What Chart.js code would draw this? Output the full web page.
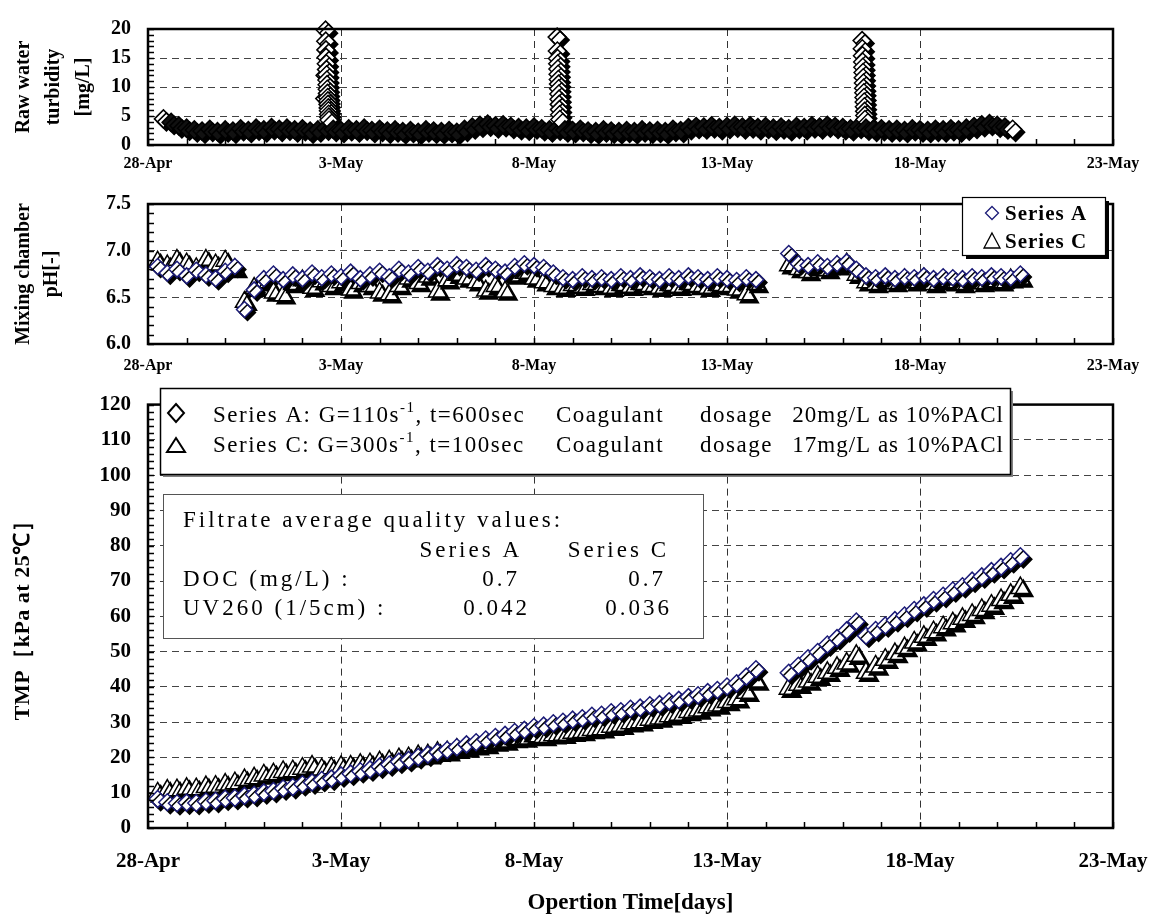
<!DOCTYPE html>
<html>
<head>
<meta charset="utf-8">
<script src="https://cdn.jsdelivr.net/npm/chart.js@4.4.1/dist/chart.umd.min.js"></script>
<style>
html, body { margin: 0; padding: 0; background: #fff; }
#wrap { position: relative; width: 1155px; height: 920px; }
canvas { position: absolute; left: 0; }
</style>
</head>
<body>
<div id="wrap">
  <canvas id="turbChart" width="1155" height="175" style="top:0"></canvas>
  <canvas id="phChart" width="1155" height="200" style="top:175px"></canvas>
  <canvas id="tmpChart" width="1155" height="545" style="top:375px"></canvas>
</div>
<script>
// x axis: days since 28-Apr
const xTickLabels = ['28-Apr', '3-May', '8-May', '13-May', '18-May', '23-May'];

// raw water turbidity, sampled every 0.2 day from day 0.4
const turbBase = [
  4.5, 3.9, 3.3, 2.9, 2.6, 2.4, 2.7, 2.3, 2.6, 2.4,
  2.8, 2.5, 2.9, 2.6, 3.0, 2.7, 2.9, 2.6, 2.8, 2.4,
  2.6, 2.9, 2.7, 2.5, 2.8, 2.6, 2.9, 2.5, 2.7, 2.4,
  2.6, 2.3, 2.5, 2.2, 2.6, 2.4, 2.3, 2.5, 2.2, 2.7,
  3.1, 3.4, 3.6, 3.3, 3.5, 3.2, 3.0, 2.9, 3.1, 2.8,
  2.6, 2.9, 2.6, 2.5, 2.7, 2.4, 2.3, 2.6, 2.4, 2.3,
  2.5, 2.3, 2.6, 2.4, 2.5, 2.3, 2.7, 2.5, 3.0, 3.2,
  3.1, 3.3, 3.0, 3.2, 3.4, 3.1, 3.3, 3.0, 3.2, 2.9,
  3.1, 2.8, 3.2, 3.0, 3.3, 3.1, 3.4, 3.2, 3.0, 2.8,
  3.2, 2.9, 2.7, 2.8, 2.6, 2.7, 2.5, 2.8, 2.6, 2.5,
  2.7, 2.6, 2.8, 2.6, 2.9, 3.2, 3.5, 3.7, 3.4, 3.1, 2.7
];
// turbidity spikes (dense readings)
const spikeDays1 = [4.58, 4.59, 4.60, 4.605, 4.61, 4.615, 4.62, 4.625, 4.63, 4.635, 4.64, 4.645, 4.65, 4.655, 4.66, 4.665, 4.67, 4.675, 4.68, 4.685, 4.69];
const spikeVals1 = [8.0, 12.0, 19.8, 17.9, 16.4, 15.1, 14.0, 13.0, 12.1, 11.2, 10.4, 9.6, 8.9, 8.2, 7.6, 7.0, 6.4, 5.9, 5.3, 4.8, 4.3];
const spikeDays2 = [10.60, 10.605, 10.61, 10.615, 10.62, 10.625, 10.63, 10.635, 10.64, 10.645, 10.65, 10.655, 10.66, 10.665, 10.67];
const spikeVals2 = [18.6, 16.2, 14.9, 14.0, 13.1, 12.2, 11.3, 10.5, 9.7, 8.8, 7.9, 7.0, 6.1, 5.2, 4.4];
const spikeDays3 = [18.50, 18.505, 18.51, 18.515, 18.52, 18.525, 18.53, 18.535, 18.54, 18.545, 18.55, 18.555, 18.56, 18.565, 18.57, 18.575];
const spikeVals3 = [18.0, 16.6, 15.4, 14.3, 13.4, 12.5, 11.6, 10.7, 9.8, 9.0, 8.2, 7.4, 6.6, 5.8, 5.1, 4.4];

// pH, every 0.25 day; run 1 from day 0.25, run 2 from day 16.6
const phA1 = [
  6.83, 6.76, 6.80, 6.73, 6.79, 6.74, 6.70, 6.78, 6.83, 6.37,
  6.58, 6.70, 6.75, 6.69, 6.74, 6.70, 6.76, 6.71, 6.75, 6.72,
  6.77, 6.70, 6.74, 6.78, 6.72, 6.80, 6.76, 6.82, 6.78, 6.84,
  6.80, 6.85, 6.82, 6.79, 6.84, 6.80, 6.77, 6.83, 6.86, 6.84,
  6.82, 6.76, 6.71, 6.69, 6.72, 6.70, 6.71, 6.69, 6.72, 6.70,
  6.73, 6.71, 6.69, 6.72, 6.70, 6.73, 6.71, 6.69, 6.72, 6.70,
  6.68, 6.71, 6.69
];
const phC1 = [
  6.88, 6.84, 6.90, 6.86, 6.81, 6.90, 6.85, 6.89, 6.80, 6.45,
  6.60, 6.66, 6.55, 6.52, 6.64, 6.68, 6.60, 6.67, 6.62, 6.66,
  6.58, 6.65, 6.62, 6.55, 6.53, 6.62, 6.70, 6.65, 6.72, 6.56,
  6.68, 6.74, 6.70, 6.66, 6.57, 6.62, 6.56, 6.73, 6.76, 6.70,
  6.66, 6.62, 6.60, 6.63, 6.61, 6.64, 6.62, 6.60, 6.63, 6.61,
  6.64, 6.62, 6.60, 6.63, 6.61, 6.64, 6.62, 6.60, 6.63, 6.62,
  6.58, 6.53, 6.64
];
const phA2 = [
  6.97, 6.86, 6.84, 6.87, 6.83, 6.86, 6.88, 6.80, 6.73, 6.71,
  6.73, 6.70, 6.72, 6.71, 6.73, 6.70, 6.72, 6.71, 6.70, 6.72,
  6.71, 6.73, 6.72, 6.71, 6.75
];
const phC2 = [
  6.84, 6.80, 6.77, 6.82, 6.79, 6.83, 6.86, 6.74, 6.66, 6.64,
  6.68, 6.65, 6.69, 6.66, 6.70, 6.64, 6.67, 6.66, 6.64, 6.68,
  6.65, 6.67, 6.66, 6.69, 6.70
];

// TMP [kPa], same sampling as pH
const tmpA1 = [
  8.2, 7.3, 7.0, 7.2, 7.1, 7.5, 7.7, 8.3, 8.5, 9.1,
  9.4, 10.1, 10.5, 11.2, 11.6, 12.4, 12.9, 13.6, 14.0, 14.9,
  15.4, 16.1, 16.6, 17.4, 18.0, 18.8, 19.3, 20.1, 20.8, 21.5,
  22.1, 22.9, 23.7, 24.3, 25.1, 25.8, 26.4, 27.2, 27.8, 28.6,
  29.0, 29.7, 30.1, 30.7, 31.1, 31.8, 32.1, 32.8, 33.1, 33.8,
  34.1, 34.8, 35.1, 35.9, 36.3, 37.1, 37.6, 38.5, 39.1, 40.1,
  41.0, 42.9, 45.0
];
const tmpC1 = [
  9.8, 10.6, 10.7, 11.1, 11.0, 11.6, 11.7, 12.3, 12.7, 13.6,
  14.1, 14.9, 15.2, 15.9, 16.1, 16.8, 17.4, 16.6, 16.9, 17.3,
  17.4, 17.9, 18.1, 18.6, 18.9, 19.5, 19.8, 20.4, 20.6, 21.3,
  21.5, 22.2, 22.5, 23.2, 23.5, 24.2, 24.5, 25.2, 25.4, 26.0,
  25.8, 26.3, 26.4, 27.0, 27.2, 27.8, 28.0, 28.7, 29.0, 29.7,
  30.0, 30.7, 31.0, 31.7, 32.1, 32.9, 33.3, 34.2, 34.7, 35.7,
  36.5, 38.3, 41.5
];
const tmpA2 = [
  44.0, 46.0, 48.1, 49.9, 52.0, 53.8, 56.0, 58.5, 54.5, 56.1,
  57.4, 58.9, 60.2, 61.8, 63.1, 64.6, 65.8, 67.3, 68.5, 70.1,
  71.3, 72.8, 74.0, 75.6, 77.0
];
const tmpC2 = [
  39.5, 40.6, 41.5, 42.9, 44.0, 45.4, 46.6, 48.8, 44.0, 45.8,
  47.7, 49.3, 51.0, 52.6, 54.2, 55.5, 56.9, 58.0, 59.3, 60.4,
  61.8, 63.0, 64.6, 66.1, 68.0
];

const SERIF = '"Liberation Serif", "Times New Roman", serif';
const NAVY = '#1c1c78';

const sampleDays = (start, step, n) => Array.from({ length: n }, (_, i) => +(start + i * step).toFixed(2));
const pts = (days, vals) => vals.map((v, i) => ({ x: days[i], y: v }));
const run1Days = sampleDays(0.25, 0.25, phA1.length);
const run2Days = sampleDays(16.6, 0.25, phA2.length);
const turbDays = sampleDays(0.4, 0.2, turbBase.length);

const turbPoints = pts(turbDays, turbBase)
  .concat(pts(spikeDays1, spikeVals1), pts(spikeDays2, spikeVals2), pts(spikeDays3, spikeVals3))
  .sort((a, b) => a.x - b.x);

// markers get an offset black shadow
const markerShadow = {
  id: 'markerShadow',
  beforeDatasetDraw(chart) {
    const c = chart.ctx;
    c.save();
    c.shadowColor = '#000';
    c.shadowBlur = 0;
    c.shadowOffsetX = 3;
    c.shadowOffsetY = 3;
  },
  afterDatasetDraw(chart) { chart.ctx.restore(); }
};

// thick frame and small inward ticks
const frameTicks = {
  id: 'frameTicks',
  afterDraw(chart, args, opts) {
    const { ctx: c, chartArea: a, scales: { x, y } } = chart;
    c.save();
    c.strokeStyle = '#000';
    c.lineWidth = 1.5;
    c.beginPath();
    for (let d = x.min; d <= x.max; d += 1) {
      const px = Math.round(x.getPixelForValue(d)) + 0.5;
      c.moveTo(px, a.bottom);
      c.lineTo(px, a.bottom - 6);
    }
    const n = Math.round((y.max - y.min) / opts.minorY);
    for (let i = 0; i <= n; i++) {
      const py = Math.round(y.getPixelForValue(y.min + i * opts.minorY)) + 0.5;
      c.moveTo(a.left, py);
      c.lineTo(a.left + 6, py);
    }
    c.stroke();
    c.lineWidth = 2.5;
    c.strokeRect(a.left, a.top, a.right - a.left, a.bottom - a.top);
    c.restore();
  }
};

function diamond(c, x, y, w, h, color) {
  c.beginPath();
  c.moveTo(x, y - h); c.lineTo(x + w, y); c.lineTo(x, y + h); c.lineTo(x - w, y); c.closePath();
  c.strokeStyle = color; c.stroke();
}
function triangle(c, x, top, bottom, w, color) {
  c.beginPath();
  c.moveTo(x, top); c.lineTo(x + w, bottom); c.lineTo(x - w, bottom); c.closePath();
  c.strokeStyle = color; c.stroke();
}

function timeAxis(height, pad, size, withTitle) {
  return {
    type: 'linear', min: 0, max: 25,
    afterFit: s => { s.height = height; s.paddingLeft = 0; s.paddingRight = 0; },
    ticks: {
      stepSize: 5, padding: pad, color: '#000', maxRotation: 0, autoSkip: false,
      font: { family: SERIF, size: size, weight: 'bold' },
      callback: (v, i) => xTickLabels[i]
    },
    grid: { color: '#333', lineWidth: 1, drawTicks: false },
    border: { display: false, dash: [7, 5] },
    title: {
      display: withTitle, text: 'Opertion Time[days]', color: '#000',
      font: { family: SERIF, size: 23, weight: 'bold' },
      padding: { top: 0, bottom: 3 }
    }
  };
}

function valueAxis(min, max, step, digits, size, text, lh, pad) {
  return {
    min: min, max: max,
    afterFit: s => { s.width = 148; },
    ticks: {
      stepSize: step, padding: 17, color: '#000',
      font: { family: SERIF, size: size, weight: 'bold' },
      callback: v => Number(v).toFixed(digits)
    },
    grid: { color: '#444', lineWidth: 1, drawTicks: false },
    border: { display: false, dash: [7, 5] },
    title: {
      display: !!text, text: text || '', color: '#000',
      font: { family: SERIF, size: 20, weight: 'bold', lineHeight: lh },
      padding: { top: pad, bottom: 0 }
    }
  };
}

function baseOptions(top, minorY, x, y) {
  return {
    responsive: false, animation: false, devicePixelRatio: 1,
    layout: { padding: { top: top, right: 42, bottom: 0, left: 0 } },
    plugins: { legend: { display: false }, tooltip: { enabled: false }, frameTicks: { minorY: minorY } },
    scales: { x: x, y: y }
  };
}

function diamondSet(data, border, r) {
  return {
    data: data, pointStyle: 'rectRot', pointRadius: r, pointBorderWidth: 1.5,
    pointBorderColor: border, pointBackgroundColor: '#fff', showLine: false, clip: false
  };
}
function triangleSet(data, r) {
  return {
    data: data, pointStyle: 'triangle', pointRadius: r, pointBorderWidth: 1.5,
    pointBorderColor: '#000', pointBackgroundColor: '#fff', showLine: false, clip: false
  };
}

// Raw water turbidity
const lastTurb = turbPoints.length - 1;
new Chart(document.getElementById('turbChart'), {
  type: 'scatter',
  data: {
    datasets: [Object.assign(diamondSet(turbPoints, '#000', 9), {
      pointBackgroundColor: ctx => (ctx.raw && ctx.raw.y >= 4.2) || ctx.dataIndex === lastTurb ? '#fff' : '#111'
    })]
  },
  options: baseOptions(15, 1, timeAxis(30, 9, 16, false),
    valueAxis(0, 20, 5, 0, 20, ['Raw water', 'turbidity', '[mg/L]'], 1.5, 9)),
  plugins: [markerShadow, frameTicks]
});

// Mixing chamber pH
const phLegend = {
  id: 'phLegend',
  afterDraw(chart) {
    const c = chart.ctx;
    c.save();
    c.fillStyle = '#000'; c.fillRect(966, 26, 143, 58);
    c.fillStyle = '#fff'; c.fillRect(962, 22, 143, 58);
    c.lineWidth = 1.2; c.strokeStyle = '#000'; c.strokeRect(962.5, 22.5, 143, 58);
    c.lineWidth = 1.3;
    diamond(c, 992, 38, 6.5, 6.5, NAVY);
    triangle(c, 992, 58, 73, 8, '#000');
    c.fillStyle = '#000';
    c.font = 'bold 21px ' + SERIF;
    c.letterSpacing = '1px';
    c.textBaseline = 'alphabetic';
    c.fillText('Series A', 1005, 45);
    c.fillText('Series C', 1005, 73);
    c.restore();
  }
};
new Chart(document.getElementById('phChart'), {
  type: 'scatter',
  data: {
    datasets: [
      diamondSet(pts(run1Days, phA1).concat(pts(run2Days, phA2)), NAVY, 8),
      triangleSet(pts(run1Days, phC1).concat(pts(run2Days, phC2)), 10.5)
    ]
  },
  options: baseOptions(11, 0.1, timeAxis(31, 12, 16, false),
    valueAxis(6.0, 7.5, 0.5, 1, 20, ['Mixing chamber', 'pH[-]'], 1.4, 10)),
  plugins: [markerShadow, frameTicks, phLegend]
});

// TMP
const tmpLegend = {
  id: 'tmpLegend',
  afterDraw(chart) {
    const c = chart.ctx;
    c.save();
    // y axis title
    c.save();
    c.translate(23, 240);
    c.rotate(-Math.PI / 2);
    c.font = 'bold 22px ' + SERIF;
    c.letterSpacing = '0.5px';
    c.fillStyle = '#000';
    c.textAlign = 'center';
    c.textBaseline = 'middle';
    c.fillText('TMP［kPa at 25℃］', 0, 0);
    c.restore();
    // series description box
    c.fillStyle = '#808080'; c.fillRect(163, 16, 850, 86);
    c.fillStyle = '#fff'; c.fillRect(160, 13, 850, 86);
    c.lineWidth = 1.5; c.strokeStyle = '#000'; c.strokeRect(160.5, 13.5, 850, 86);
    c.lineWidth = 2;
    diamond(c, 176, 38, 8, 9, '#000');
    triangle(c, 176, 63, 77, 9, '#000');
    c.fillStyle = '#000';
    c.textBaseline = 'alphabetic';
    const lines = [
      { y: 47, s: 'Series A:', g: ' G=110s', t: ', t=600sec', d: '20mg/L as 10%PACl' },
      { y: 77, s: 'Series C:', g: ' G=300s', t: ', t=100sec', d: '17mg/L as 10%PACl' }
    ];
    lines.forEach(l => {
      c.font = '23px ' + SERIF;
      c.letterSpacing = '1.5px';
      c.textAlign = 'left';
      let x = 213;
      c.fillText(l.s, x, l.y); x += c.measureText(l.s).width;
      c.fillText(l.g, x, l.y); x += c.measureText(l.g).width;
      c.font = '15px ' + SERIF;
      c.fillText('-1', x, l.y - 10); x += c.measureText('-1').width;
      c.font = '23px ' + SERIF;
      c.fillText(l.t, x, l.y);
      c.fillText('Coagulant', 556, l.y);
      c.fillText('dosage', 700, l.y);
      c.letterSpacing = '1px';
      c.textAlign = 'right';
      c.fillText(l.d, 1004, l.y);
    });
    // filtrate quality box
    c.fillStyle = '#fff'; c.fillRect(163, 119, 540, 144);
    c.lineWidth = 1; c.strokeStyle = '#555'; c.strokeRect(163.5, 119.5, 540, 144);
    c.fillStyle = '#000';
    c.font = '23px ' + SERIF;
    c.letterSpacing = '3px';
    c.textAlign = 'left';
    c.fillText('Filtrate average quality values:', 183, 152);
    c.fillText('DOC (mg/L) :', 183, 211);
    c.fillText('UV260 (1/5cm) :', 183, 240);
    c.textAlign = 'right';
    c.fillText('Series A', 522, 182);
    c.fillText('Series C', 669, 182);
    c.fillText('0.7', 520, 211);
    c.fillText('0.7', 666, 211);
    c.fillText('0.042', 530, 240);
    c.fillText('0.036', 672, 240);
    c.restore();
  }
};
new Chart(document.getElementById('tmpChart'), {
  type: 'scatter',
  data: {
    datasets: [
      diamondSet(pts(run1Days, tmpA1).concat(pts(run2Days, tmpA2)), NAVY, 8.5),
      triangleSet(pts(run1Days, tmpC1).concat(pts(run2Days, tmpC2)), 11)
    ]
  },
  options: baseOptions(8, 2, timeAxis(92, 21, 21, true),
    valueAxis(0, 120, 10, 0, 21, null, 1.2, 10)),
  plugins: [markerShadow, frameTicks, tmpLegend]
});
</script>
</body>
</html>
